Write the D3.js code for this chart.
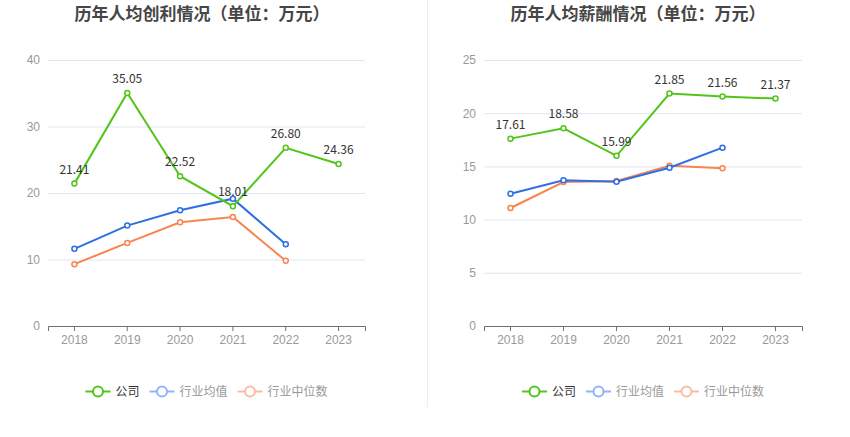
<!DOCTYPE html>
<html>
<head>
<meta charset="utf-8">
<script src="https://cdn.jsdelivr.net/npm/d3@7"></script>
<style>
  body { margin: 0; background: #fff; }
  svg { font-family: "Noto Sans CJK SC", "Noto Sans", sans-serif; }
</style>
</head>
<body>
<div id="chart-area"></div>
<script>
// DATA
const years = ['2018', '2019', '2020', '2021', '2022', '2023']
const seriesNames = ['公司', '行业均值', '行业中位数']

const profitCompany = [21.41, 35.05, 22.52, 18.01, 26.80, 24.36]
const profitMean = [11.6, 15.1, 17.4, 19.15, 12.3]
const profitMedian = [9.3, 12.5, 15.6, 16.4, 9.8]
const profitTicks = [0, 10, 20, 30, 40]

const salaryCompany = [17.61, 18.58, 15.99, 21.85, 21.56, 21.37]
const salaryMean = [12.43, 13.7, 13.56, 14.88, 16.76]
const salaryMedian = [11.09, 13.53, 13.63, 15.07, 14.82]
const salaryTicks = [0, 5, 10, 15, 20, 25]

const COLORS = ['#52c41a', '#2f6fe4', '#fa8450']
const LEGEND_COLORS = ['#52c41a', '#91b4f7', '#fcbca3']

const WIDTH = 850
const HEIGHT = 437

const svg = d3.select('#chart-area').append('svg')
  .attr('width', WIDTH)
  .attr('height', HEIGHT)

// divider between the two panels
svg.append('line')
  .attr('x1', 427.5).attr('x2', 427.5)
  .attr('y1', 0).attr('y2', 407)
  .attr('stroke', '#eeeeee')

function drawPanel(opt) {
  const g = svg.append('g')

  const x = d3.scaleBand()
    .domain(years)
    .range([opt.left, opt.right])
  const y = d3.scaleLinear()
    .domain([0, d3.max(opt.ticks)])
    .range([326, 60])
  const cx = d => x(d) + x.bandwidth() / 2

  // TITLE
  g.append('text')
    .attr('x', opt.titleX)
    .attr('y', 20)
    .attr('text-anchor', 'middle')
    .attr('font-size', '17px')
    .attr('font-weight', 'bold')
    .attr('fill', '#464646')
    .text(opt.title)

  // GRID + Y AXIS
  const yAxis = d3.axisLeft(y)
    .tickValues(opt.ticks)
    .tickSize(-(opt.right - opt.left))
    .tickPadding(8)
  const yg = g.append('g')
    .attr('transform', `translate(${opt.left}, 0)`)
    .call(yAxis)
  yg.select('.domain').remove()
  yg.selectAll('line').attr('stroke', '#e0e6f1')
  yg.selectAll('text').attr('fill', '#999').attr('font-size', '12px')

  // X AXIS
  const xAxis = d3.axisBottom(x).tickSize(5).tickPadding(4)
  const xg = g.append('g')
    .attr('transform', `translate(0, 326)`)
    .call(xAxis)
  xg.select('.domain').attr('stroke', '#6e7079')
  xg.selectAll('line').attr('stroke', '#6e7079')
  xg.selectAll('text').attr('fill', '#999').attr('font-size', '12px')

  // LINES
  const line = d3.line()
    .x((d, i) => cx(years[i]))
    .y(d => y(d))

  const series = [opt.median, opt.mean, opt.company]
  const colorIdx = [2, 1, 0]
  series.forEach((vals, k) => {
    const color = COLORS[colorIdx[k]]
    g.append('path')
      .datum(vals)
      .attr('d', line)
      .attr('fill', 'none')
      .attr('stroke', color)
      .attr('stroke-width', 2)
    g.selectAll(null)
      .data(vals)
      .enter().append('circle')
      .attr('cx', (d, i) => cx(years[i]))
      .attr('cy', d => y(d))
      .attr('r', 2.5)
      .attr('fill', '#fff')
      .attr('stroke', color)
      .attr('stroke-width', 1.5)
  })

  // DATA LABELS (company)
  g.selectAll(null)
    .data(opt.company)
    .enter().append('text')
    .attr('x', (d, i) => cx(years[i]))
    .attr('y', d => y(d) - 10)
    .attr('text-anchor', 'middle')
    .attr('font-size', '12px')
    .attr('fill', '#333')
    .text(d => d.toFixed(2))

  // LEGEND
  const lg = g.append('g')
  let lx = opt.legendX
  seriesNames.forEach((name, i) => {
    const item = lg.append('g').attr('transform', `translate(${lx}, 391.5)`)
    item.append('line')
      .attr('x1', 0).attr('x2', 25)
      .attr('stroke', LEGEND_COLORS[i])
      .attr('stroke-width', 2)
    item.append('circle')
      .attr('cx', 12.5)
      .attr('r', 5)
      .attr('fill', '#fff')
      .attr('stroke', LEGEND_COLORS[i])
      .attr('stroke-width', 2)
    item.append('text')
      .attr('x', 30)
      .attr('dy', '0.35em')
      .attr('font-size', '12px')
      .attr('fill', i === 0 ? '#333' : '#999')
      .text(name)
    lx += 30 + name.length * 12 + 10
  })
}

drawPanel({
  title: '历年人均创利情况（单位：万元）',
  titleX: 202,
  left: 48, right: 365,
  ticks: profitTicks,
  company: profitCompany, mean: profitMean, median: profitMedian,
  legendX: 85.5
})

drawPanel({
  title: '历年人均薪酬情况（单位：万元）',
  titleX: 638,
  left: 484, right: 802,
  ticks: salaryTicks,
  company: salaryCompany, mean: salaryMean, median: salaryMedian,
  legendX: 522
})
</script>
</body>
</html>
